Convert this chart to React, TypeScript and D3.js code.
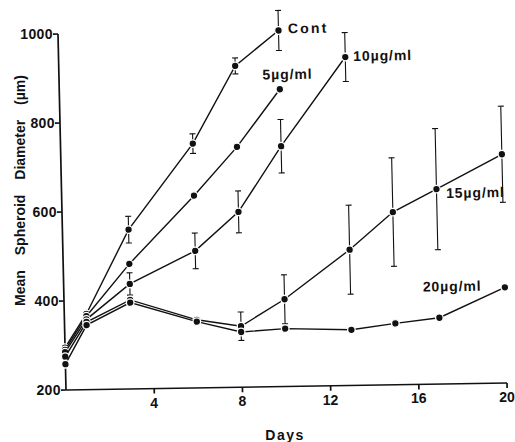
import React from "react";
import * as d3 from "d3";

// days for each series and mean diameter (um), error = half length of bar
const contDays = [0, 1, 3, 6, 8, 10];
const contVals = [295, 370, 558, 749, 922, 1000];
const contErr = [0, 0, 30, 22, 18, 45];

const d5Days = [0, 1, 3, 6, 8, 10];
const d5Vals = [290, 365, 481, 632, 740, 868];

const d10Days = [0, 1, 3, 6, 8, 10, 13];
const d10Vals = [285, 358, 436, 508, 594, 740, 938];
const d10Err = [0, 0, 25, 40, 47, 60, 55];

const d15Days = [0, 1, 3, 6, 8, 10, 13, 15, 17, 20];
const d15Vals = [275, 352, 400, 353, 337, 396, 505, 588, 638, 714];
const d15Err = [0, 0, 0, 0, 32, 55, 100, 122, 136, 108];

const d20Days = [0, 1, 3, 6, 8, 10, 13, 15, 17, 20];
const d20Vals = [258, 345, 394, 349, 324, 330, 325, 338, 349, 415];

const xTicks = [4, 8, 12, 16, 20];
const yTicks = [200, 400, 600, 800, 1000];

const series = [
  { name: "Cont", days: contDays, vals: contVals, err: contErr },
  { name: "5µg/ml", days: d5Days, vals: d5Vals, err: null },
  { name: "10µg/ml", days: d10Days, vals: d10Vals, err: d10Err },
  { name: "15µg/ml", days: d15Days, vals: d15Vals, err: d15Err },
  { name: "20µg/ml", days: d20Days, vals: d20Vals, err: null },
];

// label anchors: [day, value, dx, dy]
const labelPos: Record<string, [number, number, number, number]> = {
  Cont: [10, 1000, 9.5, 3],
  "5µg/ml": [10, 868, -17, -10],
  "10µg/ml": [13, 938, 8, 4],
  "15µg/ml": [17, 638, 9.5, 9],
  "20µg/ml": [20, 415, -82, 3],
};

const App = () => {
  const width = 515;
  const height = 442;
  const x = d3.scaleLinear().domain([0, 20]).range([66, 507]);
  const y = d3.scaleLinear().domain([200, 1000]).range([390, 34]);
  const font = "'Liberation Sans', Arial, sans-serif";
  // the scan is slightly skewed
  const kx = 0.0225;
  const ky = -0.0159;
  const skew = `matrix(1,${ky},${kx},1,${-kx * 390},${-ky * 66})`;
  const axisX = (v: number) => x(0) - kx * (y(200) - y(v));

  return (
    <svg
      width={width}
      height={height}
      style={{ position: "fixed", left: 0, top: 0, display: "block" }}
    >
      <rect width={width} height={height} fill="#fff" />
      <g transform={skew} stroke="#111" fill="none" strokeWidth={1.4}>
        <line x1={x(0)} x2={x(0)} y1={y(200)} y2={y(1000)} strokeWidth={1.7} />
        <line x1={x(0)} x2={x(20)} y1={y(200)} y2={y(200)} strokeWidth={1.7} />
        {yTicks.map((t) => (
          <line key={t} x1={x(0) - 5} x2={x(0)} y1={y(t)} y2={y(t)} strokeWidth={1.7} />
        ))}
        {xTicks.map((t) => (
          <line key={t} x1={x(t)} x2={x(t)} y1={y(200)} y2={y(200) + 5} strokeWidth={1.7} />
        ))}
        {series.map((s) => {
          const pts = s.days.map((d, i) => [x(d), y(s.vals[i])] as [number, number]);
          return (
            <g key={s.name}>
              <path d={d3.line()(pts) || ""} />
              {s.err &&
                s.err.map((e, i) =>
                  e > 0 ? (
                    <g key={i} strokeWidth={1.1}>
                      <line x1={x(s.days[i])} x2={x(s.days[i])} y1={y(s.vals[i] - e)} y2={y(s.vals[i] + e)} />
                      <line x1={x(s.days[i]) - 3} x2={x(s.days[i]) + 3} y1={y(s.vals[i] + e)} y2={y(s.vals[i] + e)} />
                      <line x1={x(s.days[i]) - 3} x2={x(s.days[i]) + 3} y1={y(s.vals[i] - e)} y2={y(s.vals[i] - e)} />
                    </g>
                  ) : null
                )}
              {pts.map((p, i) => (
                <circle key={i} cx={p[0]} cy={p[1]} r={3.8} fill="#111" stroke="#fff" strokeWidth={1.3} />
              ))}
            </g>
          );
        })}
        {series.map((s) => {
          const [d, v, dx, dy] = labelPos[s.name];
          const isCont = s.name === "Cont";
          return (
            <text
              key={s.name}
              x={x(d) + dx}
              y={y(v) + dy}
              fill="#111"
              stroke="none"
              fontFamily={font}
              fontWeight="bold"
              fontSize={14}
              letterSpacing={isCont ? 2.2 : 0.9}
            >
              {s.name}
            </text>
          );
        })}
      </g>
      <g fontFamily={font} fontWeight="bold" fontSize={14} fill="#111">
        {yTicks.map((t) => (
          <text key={t} x={axisX(t) - 5} y={y(t) + 5} textAnchor="end" letterSpacing={0.4}>
            {t}
          </text>
        ))}
        {xTicks.map((t) => (
          <text key={t} x={x(t)} y={y(200) + 19 + ky * (x(t) - x(0))} textAnchor="middle">
            {t}
          </text>
        ))}
        <text x={285} y={440} textAnchor="middle" letterSpacing={1.5}>
          Days
        </text>
        <text transform="translate(25,190.5) rotate(-90)" textAnchor="middle" wordSpacing={11}>
          Mean Spheroid Diameter (µm)
        </text>
      </g>
    </svg>
  );
};

export default App;
